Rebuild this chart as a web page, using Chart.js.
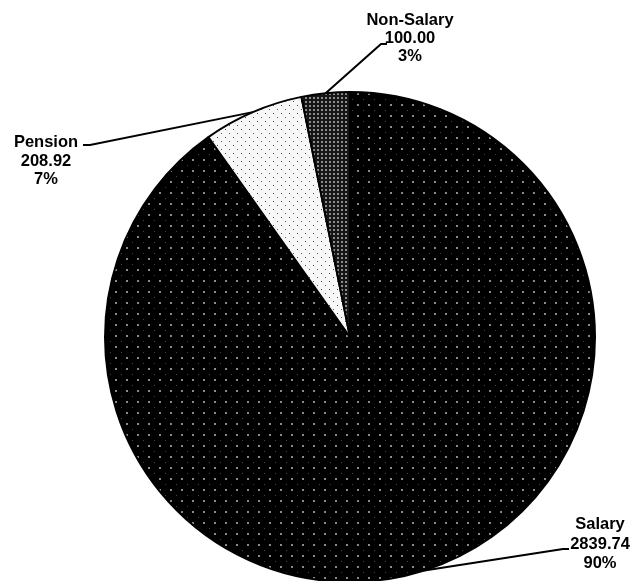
<!DOCTYPE html>
<html>
<head>
<meta charset="utf-8">
<script src="https://cdn.jsdelivr.net/npm/chart.js"></script>
<style>
  html, body { margin: 0; padding: 0; background: #fff; overflow: hidden; }
  #wrap { width: 635px; height: 600px; }
</style>
</head>
<body>
<div id="wrap"><canvas id="pie" width="635" height="600"></canvas></div>
<script>
// data
const categories = ['Salary', 'Pension', 'Non-Salary'];
const amounts = [2839.74, 208.92, 100.00];

// where each label sits (elbow of the leader line, text centre, first baseline, line height)
const labelLayout = [
    { elbowX: 563, elbowY: 549, endX: 569, textX: 600, baseY: 529, lineH: 19.5 },
    { elbowX: 90, elbowY: 145, endX: 83, textX: 46, baseY: 147, lineH: 18.5 },
    { elbowX: 381, elbowY: 44, endX: 387, textX: 410, baseY: 25, lineH: 18 }
];

// build a small repeating tile for the dotted fills
function makePattern(size, bg, dots) {
    const c = document.createElement('canvas');
    c.width = size;
    c.height = size;
    const g = c.getContext('2d');
    g.fillStyle = bg;
    g.fillRect(0, 0, size, size);
    dots.forEach(d => {
        g.fillStyle = d.color;
        g.fillRect(d.x, d.y, d.w, d.w);
    });
    return g.createPattern(c, 'repeat');
}

const ctx = document.getElementById('pie').getContext('2d');

const fills = [
    makePattern(11, '#000', [{ x: 5, y: 5, w: 2, color: '#8a8a8a' }, { x: 0, y: 0, w: 1, color: '#444' }]),
    makePattern(8, '#f8f8f8', [{ x: 1, y: 1, w: 1, color: '#444' }, { x: 5, y: 5, w: 1, color: '#555' }, { x: 3, y: 3, w: 1, color: '#dedede' }]),
    makePattern(4, '#161616', [{ x: 1, y: 1, w: 2, color: '#8c8c8c' }])
];

const total = amounts.reduce((a, b) => a + b, 0);

// leader lines + three-line labels
const labelPlugin = {
    id: 'pieLabels',
    afterDatasetsDraw(chart) {
        const g = chart.ctx;
        const arcs = chart.getDatasetMeta(0).data;
        g.save();
        arcs.forEach((arc, i) => {
            const p = arc.getProps(['x', 'y', 'startAngle', 'endAngle', 'outerRadius'], true);
            const mid = (p.startAngle + p.endAngle) / 2;
            const sx = p.x + Math.cos(mid) * p.outerRadius;
            const sy = p.y + Math.sin(mid) * p.outerRadius;
            const L = labelLayout[i];

            g.strokeStyle = '#000';
            g.lineWidth = 2;
            g.beginPath();
            g.moveTo(sx, sy);
            g.lineTo(L.elbowX, L.elbowY);
            g.lineTo(L.endX, L.elbowY);
            g.stroke();

            const lines = [
                categories[i],
                amounts[i].toFixed(2),
                Math.round(amounts[i] / total * 100) + '%'
            ];
            g.fillStyle = '#000';
            g.font = 'bold 16.5px "Liberation Sans", Arial, sans-serif';
            g.textAlign = 'center';
            g.textBaseline = 'alphabetic';
            lines.forEach((t, k) => g.fillText(t, L.textX, L.baseY + k * L.lineH));
        });
        g.restore();
    }
};

new Chart(ctx, {
    type: 'pie',
    data: {
        labels: categories,
        datasets: [{
            data: amounts,
            backgroundColor: fills,
            borderColor: '#000',
            borderWidth: 2
        }]
    },
    options: {
        responsive: false,
        animation: false,
        layout: {
            padding: { top: 91, bottom: 17, left: 104, right: 39 }
        },
        plugins: {
            legend: { display: false },
            tooltip: { enabled: false }
        }
    },
    plugins: [labelPlugin]
});
</script>
</body>
</html>
